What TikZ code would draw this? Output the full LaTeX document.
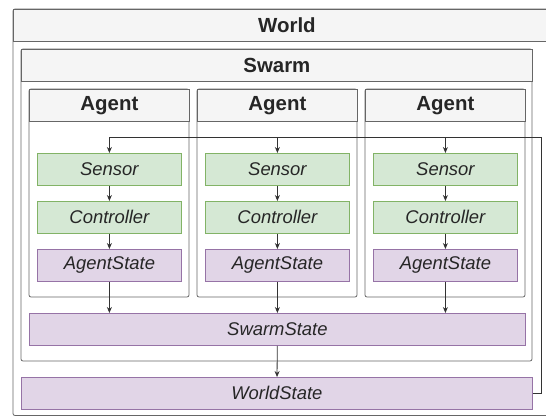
\documentclass[tikz,border=0pt]{standalone}
\usepackage{fontspec}
\setmainfont{Liberation Sans}
\usetikzlibrary{arrows.meta}
\definecolor{hdrfill}{HTML}{F5F5F5}
\definecolor{hdrline}{HTML}{666666}
\definecolor{gfill}{HTML}{D5E8D4}
\definecolor{gline}{HTML}{82B366}
\definecolor{pfill}{HTML}{E1D5E7}
\definecolor{pline}{HTML}{9673A6}
\begin{document}
\begin{tikzpicture}[x=1bp,y=-1bp,
  container/.style={draw=hdrline, line width=0.8bp, rounded corners=2bp},
  header/.style={draw=hdrline, fill=hdrfill, line width=0.8bp, font=\fontsize{20.5}{23}\selectfont\bfseries, text=black!85},
  greenbox/.style={draw=gline, fill=gfill, line width=0.8bp, font=\fontsize{18.5}{21}\selectfont\itshape, text=black!85},
  purplebox/.style={draw=pline, fill=pfill, line width=0.8bp, font=\fontsize{18.5}{21}\selectfont\itshape, text=black!85},
  conn/.style={draw=black!80, line width=0.8bp, -{Stealth[length=6bp,width=5bp]}},
  plain/.style={draw=black!80, line width=0.8bp}
]
\useasboundingbox (0,0) rectangle (546,416);

% World container
\draw[container] (13,9) rectangle (560,415.5);
\node[header, minimum width=547bp, minimum height=32bp, anchor=north west, inner sep=0pt] (world) at (13,9) {World};

% Swarm container
\draw[container] (21,49) rectangle (532,361);
\node[header, minimum width=511bp, minimum height=32bp, anchor=north west, inner sep=0pt] (swarm) at (21,49) {Swarm};

% Agents
\foreach \i/\x in {1/29,2/197,3/365}{
  \draw[container] (\x,89) rectangle ++(160,208);
  \node[header, minimum width=160bp, minimum height=32bp, anchor=north west, inner sep=0pt] (agent\i) at (\x,89) {Agent};
  \node[greenbox, minimum width=144bp, minimum height=32bp, anchor=north west, inner sep=0pt] (sensor\i) at (\x+8,153) {Sensor};
  \node[greenbox, minimum width=144bp, minimum height=32bp, anchor=north west, inner sep=0pt] (ctrl\i) at (\x+8,201) {Controller};
  \node[purplebox, minimum width=144bp, minimum height=32bp, anchor=north west, inner sep=0pt] (astate\i) at (\x+8,249) {AgentState};
}

\node[purplebox, minimum width=496bp, minimum height=32bp, anchor=north west, inner sep=0pt] (sstate) at (29,313) {SwarmState};
\node[purplebox, minimum width=511bp, minimum height=32bp, anchor=north west, inner sep=0pt] (wstate) at (21,377) {WorldState};

\coordinate (fbr) at (541,393);
\coordinate (fbtr) at (541,137);
\coordinate (fbtl) at (109,137);

% feedback loop
\draw[plain] (wstate.east |- fbr) -- (fbr) -- (fbtr) -- (fbtl);
\foreach \i in {1,2,3}{
  \draw[conn] (sensor\i.north |- fbtl) -- (sensor\i.north);
  \draw[conn] (sensor\i) -- (ctrl\i);
  \draw[conn] (ctrl\i) -- (astate\i);
  \draw[conn] (astate\i.south) -- (astate\i.south |- sstate.north);
}
\draw[conn] (sstate) -- (wstate);
\end{tikzpicture}
\end{document}
